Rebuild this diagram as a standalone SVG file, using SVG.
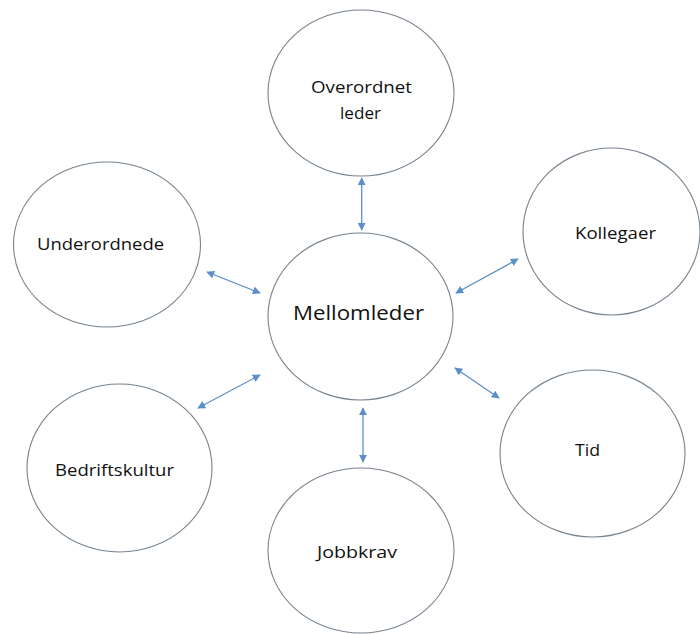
<svg xmlns="http://www.w3.org/2000/svg" width="700" height="634" viewBox="0 0 700 634">
<style>
.node ellipse{fill:#ffffff;stroke:#77838f;stroke-width:1.1}
.lbl{font-family:"Open Sans","Liberation Sans",sans-serif;font-size:16px;fill:#111111;text-anchor:middle}
.big{font-size:20.5px}
.conn line{stroke:#5b8fc7;stroke-width:1.3;marker-start:url(#ah);marker-end:url(#ah)}
</style>
<defs>
<marker id="ah" viewBox="0 0 10 10" refX="9" refY="5" markerWidth="8" markerHeight="8" markerUnits="userSpaceOnUse" orient="auto-start-reverse">
<path d="M0,0 L10,5 L0,10 z" fill="#5b8fc7"/>
</marker>
</defs>
<rect width="700" height="634" fill="#ffffff"/>
<g id="overordnet" class="node">
<ellipse cx="361" cy="93" rx="93" ry="83"/>
<text class="lbl" x="361.5" y="93" textLength="101" lengthAdjust="spacingAndGlyphs">Overordnet</text>
<text class="lbl" x="360.5" y="119" textLength="41" lengthAdjust="spacingAndGlyphs">leder</text>
</g>
<g id="underordnede" class="node">
<ellipse cx="107" cy="244.5" rx="93.5" ry="82.5"/>
<text class="lbl" x="100.5" y="250" textLength="127" lengthAdjust="spacingAndGlyphs">Underordnede</text>
</g>
<g id="kollegaer" class="node">
<ellipse cx="611.5" cy="231.5" rx="88.5" ry="83.5"/>
<text class="lbl" x="615.5" y="239" textLength="81" lengthAdjust="spacingAndGlyphs">Kollegaer</text>
</g>
<g id="mellomleder" class="node">
<ellipse cx="360.5" cy="316.5" rx="92.5" ry="83.5"/>
<text class="lbl big" x="358.5" y="320" textLength="131" lengthAdjust="spacingAndGlyphs">Mellomleder</text>
</g>
<g id="bedriftskultur" class="node">
<ellipse cx="119.5" cy="468" rx="92.5" ry="84"/>
<text class="lbl" x="114.5" y="476" textLength="119" lengthAdjust="spacingAndGlyphs">Bedriftskultur</text>
</g>
<g id="tid" class="node">
<ellipse cx="592.5" cy="453.5" rx="92.5" ry="83.5"/>
<text class="lbl" x="587.5" y="456" textLength="25" lengthAdjust="spacingAndGlyphs">Tid</text>
</g>
<g id="jobbkrav" class="node">
<ellipse cx="361" cy="550.5" rx="93" ry="82.5"/>
<text class="lbl" x="357" y="558" textLength="80" lengthAdjust="spacingAndGlyphs">Jobbkrav</text>
</g>
<g id="connectors" class="conn">
<line x1="361.7" y1="178" x2="361.7" y2="230"/>
<line x1="363" y1="408" x2="363" y2="462"/>
<line x1="207" y1="272" x2="260" y2="293"/>
<line x1="456" y1="293" x2="518" y2="259"/>
<line x1="198" y1="408" x2="260" y2="375"/>
<line x1="455" y1="368" x2="499" y2="398"/>
</g>
</svg>
